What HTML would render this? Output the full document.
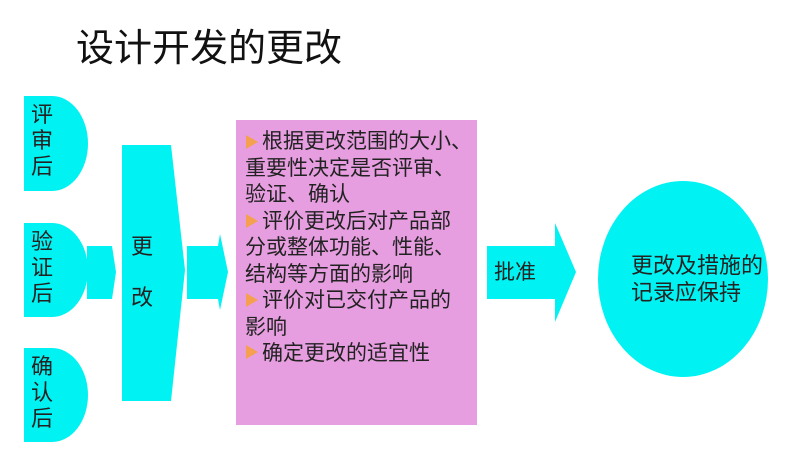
<!DOCTYPE html>
<html><head><meta charset="utf-8"><style>
html,body{margin:0;padding:0;background:#fff;}
body{width:800px;height:458px;position:relative;overflow:hidden;font-family:"Liberation Sans","Noto Sans CJK SC",sans-serif;color:#222;}
.t{position:absolute;white-space:nowrap;}
</style></head><body>
<svg width="800" height="458" style="position:absolute;left:0;top:0">
<g fill="#00f2f2">
<path d="M24 96 H52 A36 47.5 0 0 1 52 191 H24 Z"/>
<path d="M24 223 H52 A36 47 0 0 1 52 317 H24 Z"/>
<path d="M24 348 H52 A36 47 0 0 1 52 442 H24 Z"/>
<polygon points="87,246 112,246 116,272 112,299 87,299"/>
<polygon points="122,145 171,145 185,270 171,401 122,401"/>
<polygon points="187,246 218,246 220,234 228,272 220,310 218,299 187,299"/>
<polygon points="487,246 555,246 555,223 576,272 555,322 555,299 487,299"/>
<ellipse cx="683" cy="279" rx="85" ry="98"/>
</g>
<rect x="236" y="120" width="241" height="305" fill="#e79ee0"/>
<g fill="#f5a050">
<polygon points="246,135 258,142 246,149"/>
<polygon points="246,214 258,221 246,228"/>
<polygon points="246,293 258,300 246,307"/>
<polygon points="246,345 258,352 246,359"/>
</g>
</svg>
<div class="t" style="left:76px;top:27px;font-size:38px;line-height:44px;color:#111">设计开发的更改</div>
<div class="t" style="left:31px;top:102px;font-size:22px;line-height:26px;">评<br>审<br>后</div>
<div class="t" style="left:31px;top:229px;font-size:22px;line-height:26px;">验<br>证<br>后</div>
<div class="t" style="left:31px;top:354px;font-size:22px;line-height:26px;">确<br>认<br>后</div>
<div class="t" style="left:131px;top:234px;font-size:22px;line-height:26px;">更</div>
<div class="t" style="left:131px;top:285px;font-size:22px;line-height:26px;">改</div>
<div class="t" style="left:262px;top:129px;font-size:21px;line-height:26.5px;">根据更改范围的大小、</div>
<div class="t" style="left:245px;top:155.5px;font-size:21px;line-height:26.5px;">重要性决定是否评审、<br>验证、确认</div>
<div class="t" style="left:262px;top:208.5px;font-size:21px;line-height:26.5px;">评价更改后对产品部</div>
<div class="t" style="left:245px;top:235px;font-size:21px;line-height:26.5px;">分或整体功能、性能、<br>结构等方面的影响</div>
<div class="t" style="left:262px;top:288px;font-size:21px;line-height:26.5px;">评价对已交付产品的</div>
<div class="t" style="left:245px;top:314.5px;font-size:21px;line-height:26.5px;">影响</div>
<div class="t" style="left:262px;top:341px;font-size:21px;line-height:26.5px;">确定更改的适宜性</div>
<div class="t" style="left:494px;top:260px;font-size:21px;line-height:26px;">批准</div>
<div class="t" style="left:631px;top:252px;font-size:22px;line-height:27px;">更改及措施的<br>记录应保持</div>
</body></html>
